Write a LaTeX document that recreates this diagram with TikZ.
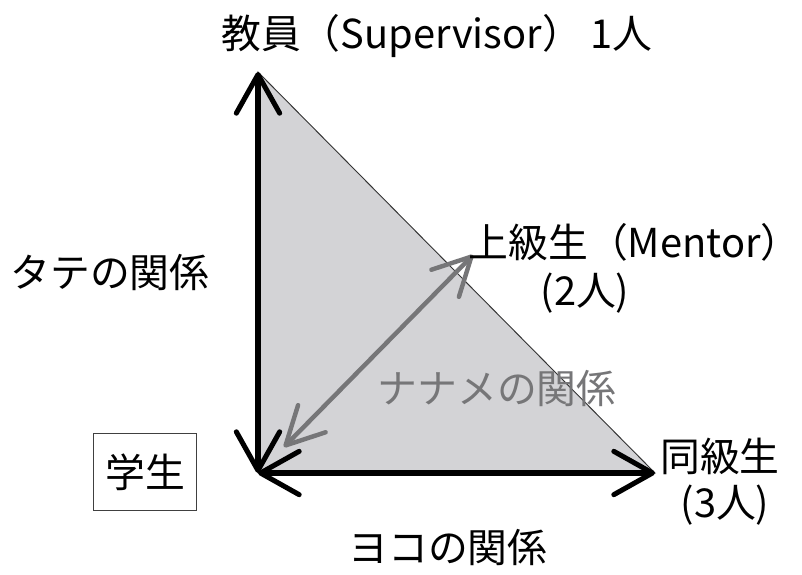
\documentclass[tikz,border=0pt]{standalone}
\usepackage{fontspec}
\newfontfamily\jpfont{Noto Sans CJK JP}
\usetikzlibrary{arrows.meta,positioning}
\definecolor{fillgray}{RGB}{211,211,214}
\definecolor{arrgray}{RGB}{118,118,120}
\tikzstyle{every node}=[font=\jpfont\fontsize{34}{40}\selectfont,inner sep=2pt]
\tikzstyle{rel}=[line width=4.3pt,{Straight Barb[length=33pt,width=37pt,round]}-{Straight Barb[length=33pt,width=37pt,round]}]
\tikzstyle{diag}=[line width=3.8pt,draw=arrgray,{Straight Barb[length=32pt,width=33pt,round]}-{Straight Barb[length=32pt,width=33pt,round]}]
\tikzstyle{who}=[draw=black!75,line width=0.8pt,minimum width=3.1cm,minimum height=2.3cm]

\begin{document}
\begin{tikzpicture}[x=0.03cm,y=-0.03cm,node distance=0.3cm]
\useasboundingbox (0,0) rectangle (802,574);
\coordinate (sup)  at (258,72);
\coordinate (stu)  at (258,473);
\coordinate (peer) at (655,473);
\coordinate (m_0)  at (284,447);
\coordinate (m_1)  at (473,255);

\fill[fillgray,draw=black!80,line width=0.8pt] (sup) -- (peer) -- (stu) -- cycle;
\draw[rel]  (sup) -- (stu);
\draw[rel]  (stu) -- (peer);
\draw[diag] (m_0) -- (m_1);

\node (t_sup)   at (437,36)  {教員（Supervisor） 1人};
\node (t_tate)  at (110,272) {タテの関係};
\node[anchor=west] (t_men) at (466,242) {上級生（Mentor）};
\node (t_men2)  at (585,293) {(2人)};
\node[text=arrgray] (t_nana) at (497,388) {ナナメの関係};
\node (t_peer)  at (720,456) {同級生};
\node (t_peer2) at (725,505) {(3人)};
\node (t_yoko)  at (448,547) {ヨコの関係};
\node[who] (t_stu) at (145,472) {学生};
\end{tikzpicture}
\end{document}
